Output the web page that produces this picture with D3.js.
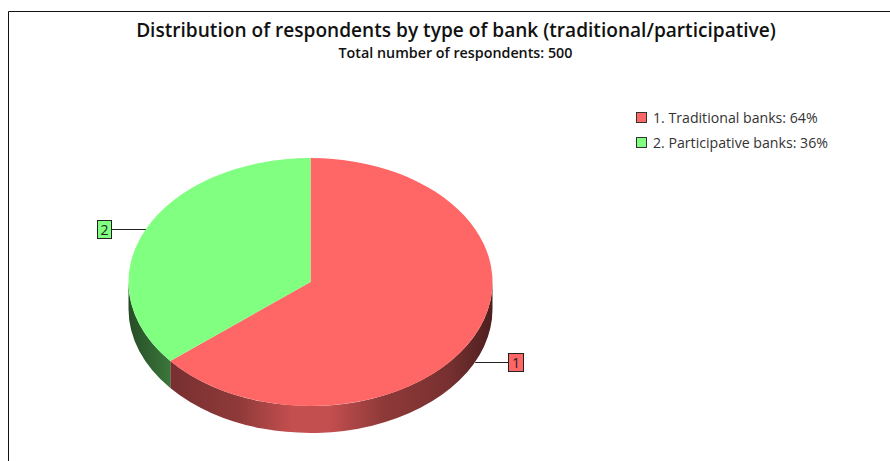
<!DOCTYPE html>
<html>
<head>
<meta charset="utf-8">
<script src="https://cdn.jsdelivr.net/npm/d3@7/dist/d3.min.js"></script>
<style>
  html, body { margin: 0; padding: 0; background: #fff; }
  svg { display: block; font-family: "Open Sans", sans-serif; }
</style>
</head>
<body>
<svg id="chart" width="890" height="461"></svg>
<script>
const categories = ["Traditional banks", "Participative banks"];
const shares = [64, 36];
const colours = ["#ff6666", "#80ff80"];
const titleText = "Distribution of respondents by type of bank (traditional/participative)";
const subtitleText = "Total number of respondents: 500";

const cx = 310.5, cy = 282, rx = 182, ry = 124, depth = 27;

const svg = d3.select("#chart");

// Frame: only the top and left edges fall inside the page
svg.append("path")
  .attr("d", "M8.5,461V11.5H890")
  .attr("fill", "none")
  .attr("stroke", "#111")
  .attr("stroke-width", 1);

svg.append("text").attr("x", 456).attr("y", 37)
  .attr("text-anchor", "middle")
  .attr("font-size", 19.1).attr("font-weight", 600).attr("fill", "#111")
  .text(titleText);
svg.append("text").attr("x", 455.5).attr("y", 58)
  .attr("text-anchor", "middle")
  .attr("font-size", 14.3).attr("font-weight", 600).attr("fill", "#111")
  .text(subtitleText);

const slices = d3.pie().sort(null).value(d => d)(shares);

// Angle measured clockwise from twelve o'clock, projected on to the tilted disc
const px = a => cx + rx * Math.sin(a);
const py = a => cy - ry * Math.cos(a);

// Wall shading runs across the full width of the disc, brightest at the middle
const defs = svg.append("defs");
colours.forEach((c, i) => {
  const base = d3.rgb(c);
  const shade = k => d3.rgb(base.r * k, base.g * k, base.b * k).formatHex();
  const grad = defs.append("linearGradient")
    .attr("id", "wall" + i)
    .attr("gradientUnits", "userSpaceOnUse")
    .attr("x1", cx - rx).attr("x2", cx + rx)
    .attr("y1", 0).attr("y2", 0);
  [[0, 0.3], [0.12, 0.47], [0.3, 0.56], [0.45, 0.77], [0.55, 0.77], [0.7, 0.56], [0.88, 0.47], [1, 0.3]]
    .forEach(([o, k]) => grad.append("stop").attr("offset", o).attr("stop-color", shade(k)));
});

// Walls: only the part of each slice on the near half of the disc shows
const nearStart = Math.PI / 2, nearEnd = 3 * Math.PI / 2;
const wallPath = (a0, a1) => {
  const from = Math.max(a0, nearStart), to = Math.min(a1, nearEnd);
  if (to <= from) return null;
  const rimLow = `A${rx},${ry} 0 0 1 ${px(to)},${py(to) + depth}`;
  const rimHigh = `A${rx},${ry} 0 0 0 ${px(from)},${py(from)}`;
  return `M${px(from)},${py(from)}L${px(from)},${py(from) + depth}${rimLow}L${px(to)},${py(to)}${rimHigh}Z`;
};

svg.append("g").selectAll("path")
  .data(slices)
  .join("path")
  .attr("d", d => wallPath(d.startAngle, d.endAngle))
  .attr("fill", (d, i) => `url(#wall${i})`);

// Top face, drawn on a circle and squashed into the ellipse
const arc = d3.arc().innerRadius(0).outerRadius(rx);
svg.append("g")
  .attr("transform", `translate(${cx},${cy}) scale(1,${ry / rx})`)
  .selectAll("path")
  .data(slices)
  .join("path")
  .attr("d", arc)
  .attr("fill", (d, i) => colours[i]);

// Numbered call-outs at each slice's mid-angle
const callouts = svg.append("g");
slices.forEach((d, i) => {
  const mid = (d.startAngle + d.endAngle) / 2;
  const onRight = Math.sin(mid) > 0;
  const x0 = px(mid);
  const y0 = py(mid) + (Math.cos(mid) < 0 ? depth : 0);
  const lead = onRight ? 32.5 : -35;
  const w = onRight ? 15 : 14, h = 18;
  const x1 = Math.round(x0 + lead) + 0.5;
  const ym = Math.round(y0) + 0.5;
  callouts.append("line")
    .attr("x1", x0).attr("x2", x1)
    .attr("y1", ym).attr("y2", ym)
    .attr("stroke", "#222");
  const bx = onRight ? x1 : x1 - w;
  callouts.append("rect")
    .attr("x", bx).attr("y", ym - h / 2)
    .attr("width", w).attr("height", h)
    .attr("fill", colours[i])
    .attr("stroke", "#222");
  callouts.append("text")
    .attr("x", bx + w / 2).attr("y", ym + 5)
    .attr("text-anchor", "middle")
    .attr("font-size", 14).attr("fill", "#222")
    .text(i + 1);
});

// Legend
const legendY = d3.scaleLinear().domain([0, 1]).range([117, 142]);
const legend = svg.append("g").selectAll("g")
  .data(categories)
  .join("g")
  .attr("transform", (d, i) => `translate(636,${legendY(i)})`);
legend.append("rect")
  .attr("x", 0.5).attr("y", -4.5)
  .attr("width", 10).attr("height", 10)
  .attr("fill", (d, i) => colours[i])
  .attr("stroke", "#333").attr("stroke-width", 1);
legend.append("text")
  .attr("x", 17).attr("y", 5.5)
  .attr("font-size", 14.15).attr("fill", "#333")
  .text((d, i) => `${i + 1}. ${d}: ${shares[i]}%`);
</script>
</body>
</html>
